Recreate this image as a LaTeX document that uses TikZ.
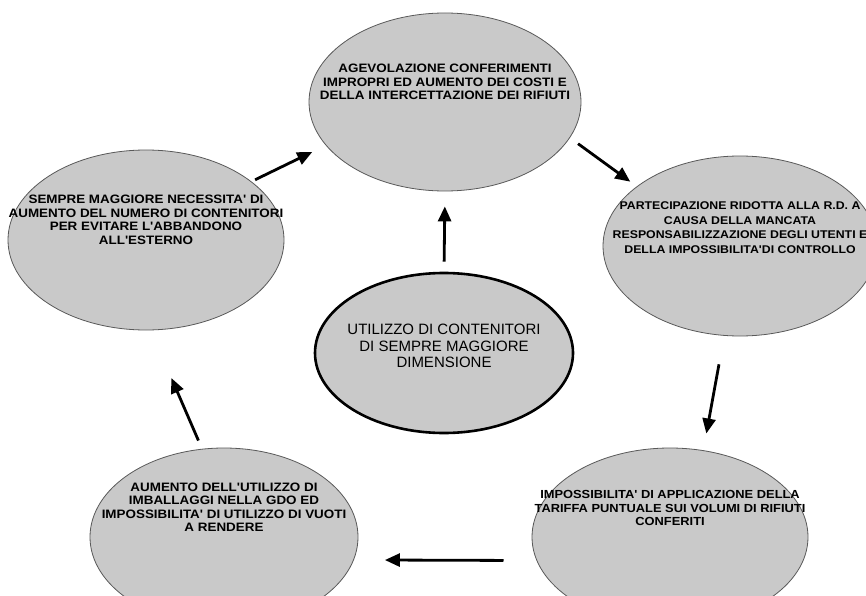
\documentclass[tikz,border=0pt]{standalone}
\usepackage{fontspec}
\setmainfont{Liberation Sans}
\newfontfamily\bubfont[FakeStretch=1.1]{Liberation Sans}
\usetikzlibrary{shapes,arrows.meta}

\begin{document}
\begin{tikzpicture}[x=1pt, y=-1pt,
  bubble/.style={ellipse, draw=black!65, line width=0.8pt, fill=black!21, inner sep=0pt},
  bubtxt/.style={align=center, inner sep=0pt, font=\bubfont\bfseries\fontsize{12.2}{13.5}\selectfont},
  arr/.style={line width=2.8pt, -{Triangle[length=15pt,width=13pt]}}]

\useasboundingbox (0,0) rectangle (866,596);

% outer ring
\node[bubble, minimum width=272pt, minimum height=178pt] (tp) at (445,102) {};
\node[bubble, minimum width=274pt, minimum height=180pt] (rt) at (740,246) {};
\node[bubble, minimum width=276pt, minimum height=178pt] (br) at (670,537) {};
\node[bubble, minimum width=268pt, minimum height=178pt] (bl) at (224,537) {};
\node[bubble, minimum width=276pt, minimum height=180pt] (lf) at (146,240) {};

% middle one
\node[bubble, draw=black, line width=2.6pt, minimum width=258pt, minimum height=160pt] (ct) at (444,353) {};

\node[bubtxt] (tp-t) at ([yshift=20pt]tp.center) {AGEVOLAZIONE CONFERIMENTI\\IMPROPRI ED AUMENTO DEI COSTI E\\DELLA INTERCETTAZIONE DEI RIFIUTI};
\node[bubtxt, font=\bubfont\bfseries\fontsize{11.2}{14.5}\selectfont] (rt-t) at ([yshift=18.5pt]rt.center) {PARTECIPAZIONE RIDOTTA ALLA R.D. A\\CAUSA DELLA MANCATA\\RESPONSABILIZZAZIONE DEGLI UTENTI E\\DELLA IMPOSSIBILITA'DI CONTROLLO};
\node[bubtxt, font=\bubfont\bfseries\fontsize{11.7}{13.8}\selectfont] (br-t) at ([yshift=29pt]br.center) {IMPOSSIBILITA' DI APPLICAZIONE DELLA\\TARIFFA PUNTUALE SUI VOLUMI DI RIFIUTI\\CONFERITI};
\node[bubtxt] (bl-t) at ([yshift=30pt]bl.center) {AUMENTO DELL'UTILIZZO DI\\IMBALLAGGI NELLA GDO ED\\IMPOSSIBILITA' DI UTILIZZO DI VUOTI\\A RENDERE};
\node[bubtxt] (lf-t) at ([yshift=20pt]lf.center) {SEMPRE MAGGIORE NECESSITA' DI\\AUMENTO DEL NUMERO DI CONTENITORI\\PER EVITARE L'ABBANDONO\\ALL'ESTERNO};
\node[align=center, inner sep=0pt, font=\fontsize{15}{16.5}\selectfont] (ct-t) at ([yshift=7pt]ct.center) {UTILIZZO DI CONTENITORI\\DI SEMPRE MAGGIORE\\DIMENSIONE};

% arrows
\draw[arr, shorten <=4pt, shorten >=15pt] (lf.29) -- (tp.200);
\draw[arr, shorten <=10pt, shorten >=8pt] (tp.344) -- (rt.150);
\draw[arr, shorten <=29pt, shorten >=17pt] (rt.260) -- (br.69);
\draw[arr, shorten <=33pt, shorten >=31pt] (br.190) -- (bl.350);
\draw[arr, shorten <=9pt, shorten >=52pt] (bl.104) -- (lf.273);
\draw[arr, shorten <=10pt, shorten >=15pt] (ct.north) -- (tp.south);

\end{tikzpicture}
\end{document}
